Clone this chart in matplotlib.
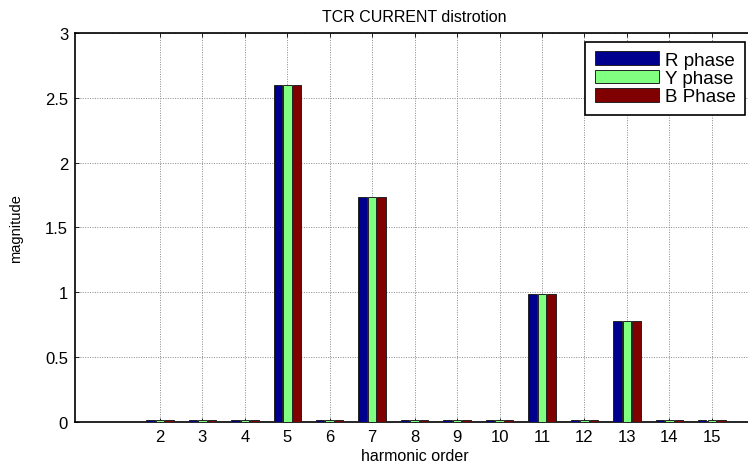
import matplotlib
matplotlib.use("Agg")
import matplotlib.pyplot as plt
import numpy as np

plt.rcParams.update({"font.family": ["Liberation Sans", "DejaVu Sans"], "font.size": 10})

# harmonic magnitudes per phase
harmonics = np.arange(2, 16)
r_phase = [0.012, 0.012, 0.012, 2.60, 0.012, 1.735, 0.012, 0.012, 0.012, 0.99, 0.012, 0.78, 0.012, 0.012]
y_phase = [0.012, 0.012, 0.012, 2.60, 0.012, 1.735, 0.012, 0.012, 0.012, 0.99, 0.012, 0.78, 0.012, 0.012]
b_phase = [0.012, 0.012, 0.012, 2.60, 0.012, 1.735, 0.012, 0.012, 0.012, 0.99, 0.012, 0.78, 0.012, 0.012]
labels = ["R phase", "Y phase", "B Phase"]
colors = ["#00008f", "#80ff80", "#800000"]

fig = plt.figure(figsize=(7.48, 4.64), dpi=100)
ax = fig.add_axes([0.1003, 0.0884, 0.908, 0.8383])

w = 0.2
for off, vals, lab, c in zip([-0.224, 0.0, 0.224], [r_phase, y_phase, b_phase], labels, colors):
    ax.bar(harmonics + off, vals, width=w, color=c, edgecolor="#222222", linewidth=0.7,
           label=lab, zorder=3)

ax.set_xlim(0, 16)
ax.set_ylim(0, 3)
ax.set_xticks(harmonics)
ax.set_yticks(np.arange(0, 3.01, 0.5))
ax.set_yticklabels(["0", "0.5", "1", "1.5", "2", "2.5", "3"])
ax.tick_params(direction="in", top=True, right=True, length=3, labelsize=12, width=0.6, pad=5)
ax.grid(True, color="#888888", ls=(0, (1, 1.5)), lw=0.7, zorder=0)
for s in ax.spines.values():
    s.set_linewidth(1.2)

ax.set_title("TCR CURRENT distrotion", fontsize=11.5, pad=9)
ax.set_xlabel("harmonic order", fontsize=11.5, labelpad=3)
ax.set_ylabel("magnitude", fontsize=10.5, labelpad=16)

leg = ax.legend(loc="upper right", bbox_to_anchor=(0.987, 0.977), fontsize=13.5, fancybox=False,
                framealpha=1, edgecolor="black", handlelength=3.4, handleheight=0.75,
                borderpad=0.5, labelspacing=0.05, handletextpad=0.35, borderaxespad=0)
leg.get_frame().set_linewidth(1.2)

fig.savefig("out.png", dpi=100)
